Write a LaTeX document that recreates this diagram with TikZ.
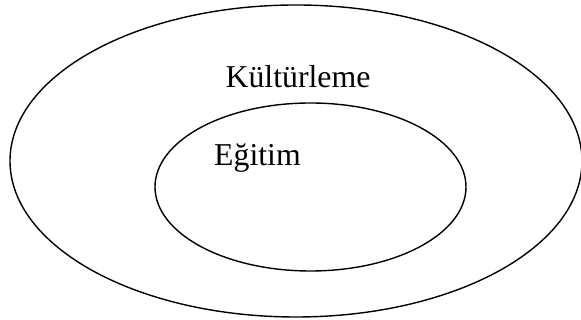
\documentclass[tikz,border=0pt]{standalone}
\usepackage{fontspec}
\setmainfont{Liberation Serif}
\usetikzlibrary{positioning,shapes.geometric}

\begin{document}
\begin{tikzpicture}[
  x=1pt, y=1pt,
  ring/.style={draw=black, ellipse, line width=1.4pt, inner sep=0pt},
  tag/.style={anchor=base, font=\fontsize{31.8}{36}\selectfont, inner sep=0pt}
]
\useasboundingbox (0,0) rectangle (581,320);
\clip (0,0) rectangle (581,320);

% Outer set
\node[ring, minimum width=572pt, minimum height=312pt] (outer) at (296,159) {};
\node[tag] (kult) at (298,232) {Kültürleme};

% Inner set
\node[ring, minimum width=311pt, minimum height=168pt] (inner) at (310.5,133) {};
\node[tag] (egit) at (257.5,154) {Eğitim};

\end{tikzpicture}
\end{document}
